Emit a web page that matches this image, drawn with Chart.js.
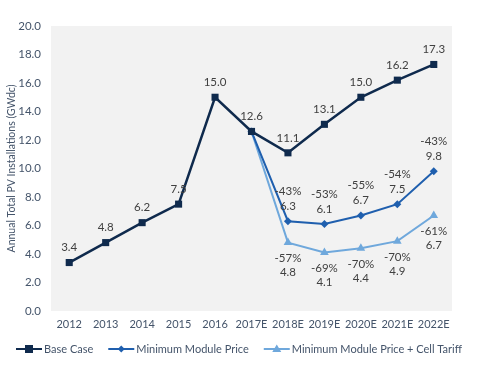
<!DOCTYPE html>
<html lang="en">
<head>
<meta charset="UTF-8">
<title>Annual Total PV Installations</title>
<script src="https://cdn.jsdelivr.net/npm/chart.js"></script>
<style>
  html, body { margin: 0; padding: 0; background: #fff; }
  #wrap { width: 478px; height: 387px; }
</style>
</head>
<body>
<div id="wrap"><canvas id="grafico" width="478" height="387"></canvas></div>
<script>
// dados
var anos = ['2012', '2013', '2014', '2015', '2016', '2017E', '2018E', '2019E', '2020E', '2021E', '2022E'];
var baseCase = [3.4, 4.8, 6.2, 7.5, 15.0, 12.6, 11.1, 13.1, 15.0, 16.2, 17.3];
var moduloMin = [null, null, null, null, null, 12.6, 6.3, 6.1, 6.7, 7.5, 9.8];
var moduloTarifa = [null, null, null, null, null, 12.6, 4.8, 4.1, 4.4, 4.9, 6.7];
var pctModulo = [null, null, null, null, null, null, '-43%', '-53%', '-55%', '-54%', '-43%'];
var pctTarifa = [null, null, null, null, null, null, '-57%', '-69%', '-70%', '-70%', '-61%'];
var yTicks = [0, 2, 4, 6, 8, 10, 12, 14, 16, 18, 20];

var corBase = '#0f2a4d';
var corModulo = '#1f5fae';
var corTarifa = '#6fa8dc';
var corTexto = '#44546a';
var fonte = 'Lato, "Open Sans", sans-serif';

var fundoArea = {
  id: 'fundoArea',
  beforeDraw: function (chart) {
    var a = chart.chartArea, ctx = chart.ctx;
    ctx.save();
    ctx.fillStyle = '#f2f2f2';
    ctx.fillRect(a.left, a.top, a.right - a.left, a.bottom - a.top);
    ctx.restore();
  }
};

var rotulos = {
  id: 'rotulos',
  afterDatasetsDraw: function (chart) {
    var ctx = chart.ctx;
    ctx.save();
    ctx.font = '11.5px ' + fonte;
    ctx.fillStyle = '#404040';
    ctx.textAlign = 'center';
    ctx.textBaseline = 'middle';
    chart.getDatasetMeta(0).data.forEach(function (p, i) {
      ctx.fillText(baseCase[i].toFixed(1), p.x, p.y - 15);
    });
    chart.getDatasetMeta(1).data.forEach(function (p, i) {
      if (!pctModulo[i]) return;
      ctx.fillText(moduloMin[i].toFixed(1), p.x, p.y - 15);
      ctx.fillText(pctModulo[i], p.x, p.y - 30);
    });
    chart.getDatasetMeta(2).data.forEach(function (p, i) {
      if (!pctTarifa[i]) return;
      ctx.fillText(pctTarifa[i], p.x, p.y + 16);
      ctx.fillText(moduloTarifa[i].toFixed(1), p.x, p.y + 30);
    });
    ctx.restore();
  }
};

// legenda desenhada à mão: linha com marcador no meio, numa linha só
var legenda = {
  id: 'legenda',
  afterDraw: function (chart) {
    var ctx = chart.ctx;
    var itens = chart.data.datasets;
    var tipos = ['rect', 'diamond', 'triangle'];
    var larguraLinha = 26, espaco = 2, entre = 15;
    ctx.save();
    ctx.font = '11px ' + fonte;
    var total = 0;
    itens.forEach(function (ds, i) {
      total += larguraLinha + espaco + ctx.measureText(ds.label).width;
      if (i < itens.length - 1) total += entre;
    });
    var x = (chart.width - total) / 2;
    var y = chart.chartArea.bottom + 38;
    itens.forEach(function (ds, i) {
      var cor = ds.borderColor;
      ctx.strokeStyle = cor; ctx.fillStyle = cor; ctx.lineWidth = 2;
      ctx.beginPath(); ctx.moveTo(x, y); ctx.lineTo(x + larguraLinha, y); ctx.stroke();
      var cx = x + larguraLinha / 2;
      ctx.beginPath();
      if (tipos[i] == 'rect') {
        ctx.rect(cx - 4, y - 4, 8, 8);
      } else if (tipos[i] == 'diamond') {
        ctx.moveTo(cx, y - 3.5); ctx.lineTo(cx + 3.5, y); ctx.lineTo(cx, y + 3.5); ctx.lineTo(cx - 3.5, y);
      } else {
        ctx.moveTo(cx, y - 4.5); ctx.lineTo(cx + 4.5, y + 3); ctx.lineTo(cx - 4.5, y + 3);
      }
      ctx.closePath(); ctx.fill();
      ctx.fillStyle = corTexto;
      ctx.textBaseline = 'middle';
      ctx.textAlign = 'left';
      ctx.fillText(ds.label, x + larguraLinha + espaco, y);
      x += larguraLinha + espaco + ctx.measureText(ds.label).width + entre;
    });
    ctx.restore();
  }
};

var estilosTarifa = moduloTarifa.map(function (v, i) { return i == 5 ? 'rect' : 'triangle'; });

var config = {
  type: 'line',
  data: {
    labels: anos,
    datasets: [{
      label: 'Base Case',
      data: baseCase,
      borderColor: corBase,
      backgroundColor: corBase,
      borderWidth: 2.5,
      pointStyle: 'rect',
      pointRadius: 5,
      pointBorderWidth: 0,
      tension: 0
    }, {
      label: 'Minimum Module Price',
      data: moduloMin,
      borderColor: corModulo,
      backgroundColor: corModulo,
      borderWidth: 2,
      pointStyle: 'rectRot',
      pointRadius: 4,
      pointBorderWidth: 0,
      tension: 0
    }, {
      label: 'Minimum Module Price + Cell Tariff',
      data: moduloTarifa,
      borderColor: corTarifa,
      backgroundColor: corTarifa,
      borderWidth: 2,
      pointStyle: estilosTarifa,
      pointRadius: 5,
      pointBorderWidth: 0,
      tension: 0
    }]
  },
  options: {
    responsive: false,
    animation: false,
    layout: { padding: { top: 26, right: 26, left: 0, bottom: 54 } },
    plugins: {
      tooltip: { enabled: false },
      legend: { display: false }
    },
    scales: {
      x: {
        offset: true,
        grid: { display: false, drawTicks: false },
        border: { display: false },
        ticks: { color: corTexto, font: { family: fonte, size: 11 }, padding: 7, maxRotation: 0, autoSkip: false },
        afterFit: function (s) { s.height = 22; }
      },
      y: {
        min: 0,
        max: 20,
        grid: { display: false, drawTicks: false },
        border: { display: false },
        afterBuildTicks: function (s) { s.ticks = yTicks.map(function (v) { return { value: v }; }); },
        ticks: {
          color: corTexto,
          font: { family: fonte, size: 11.5 },
          padding: 10,
          callback: function (v) { return v.toFixed(1); }
        },
        title: {
          display: true,
          text: 'Annual Total PV Installations (GWdc)',
          color: corTexto,
          font: { family: fonte, size: 10.5 },
          padding: { top: 5, bottom: 0 }
        },
        afterFit: function (s) { s.width = 51; }
      }
    }
  },
  plugins: [fundoArea, rotulos, legenda]
};

new Chart(document.getElementById('grafico'), config);
</script>
</body>
</html>
